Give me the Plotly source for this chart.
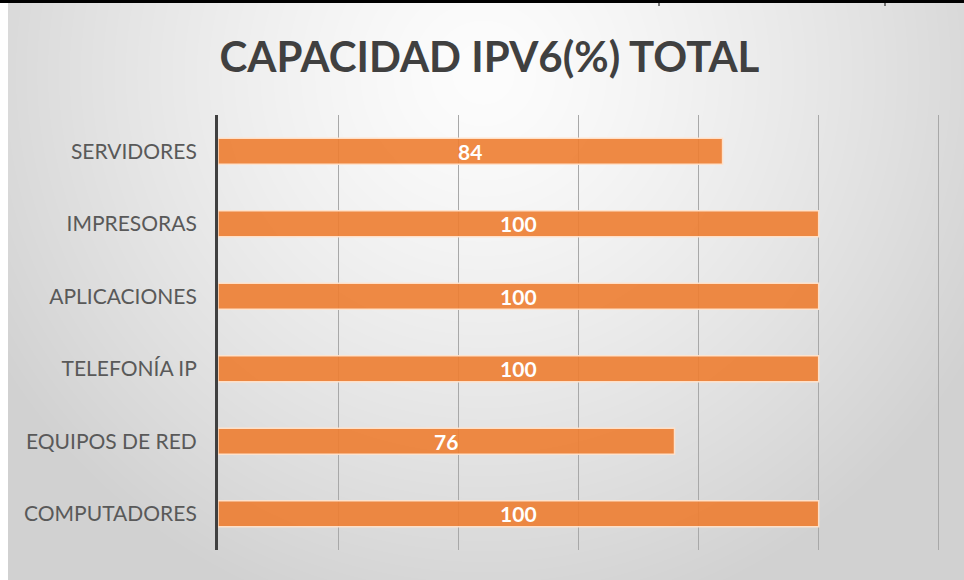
import base64
import struct
import zlib

import numpy as np
import plotly.graph_objects as go

# Data
categories = ["COMPUTADORES", "EQUIPOS DE RED", "TELEFONÍA IP",
              "APLICACIONES", "IMPRESORAS", "SERVIDORES"]
values = [100, 76, 100, 100, 100, 84]
title_text = "CAPACIDAD IPV6(%) TOTAL"

W, H = 964, 580
M_L, M_R, M_T, M_B = 218, 24, 115, 30
PW, PH = W - M_L - M_R, H - M_T - M_B


def gray_png(arr):
    """Encode a 2-D uint8 array as a grayscale PNG data URI."""
    h, w = arr.shape
    raw = b"".join(b"\x00" + arr[i].tobytes() for i in range(h))

    def chunk(tag, data):
        c = struct.pack(">I", len(data)) + tag + data
        return c + struct.pack(">I", zlib.crc32(tag + data) & 0xFFFFFFFF)

    png = b"\x89PNG\r\n\x1a\n"
    png += chunk(b"IHDR", struct.pack(">IIBBBBB", w, h, 8, 0, 0, 0, 0))
    png += chunk(b"IDAT", zlib.compress(raw, 9))
    png += chunk(b"IEND", b"")
    return "data:image/png;base64," + base64.b64encode(png).decode()


# Radial grey background panel
bx0, by0 = 8, 3
bw, bh = W - bx0, H - by0
yy, xx = np.mgrid[0:bh, 0:bw].astype(float)
r = np.sqrt(((xx - 475) / 570.0) ** 2 + ((yy - 70) / 570.0) ** 2)
shade = 253 - 44 * np.clip(r, 0, 1.0) ** 1.3
bg_uri = gray_png(shade.astype(np.uint8))


def px_x(px):
    return (px - M_L) / PW


def px_y(py):
    return (H - M_B - py) / PH


fig = go.Figure(
    go.Bar(
        x=values,
        y=categories,
        orientation="h",
        width=0.36,
        marker=dict(color="rgba(237,125,49,0.9)",
                    line=dict(color="rgba(255,228,205,0.95)", width=1.5)),
        texttemplate="%{x}",
        textposition="inside",
        textangle=0,
        constraintext="none",
        insidetextanchor="middle",
        textfont=dict(family="Lato", size=21, color="white", weight="bold"),
        hoverinfo="skip",
    )
)

fig.add_layout_image(
    dict(source=bg_uri, xref="paper", yref="paper",
         x=px_x(bx0), y=px_y(by0), sizex=bw / PW, sizey=bh / PH,
         xanchor="left", yanchor="top", sizing="stretch", layer="below")
)

# Frame line along the top edge, with two short cell dividers
fig.add_shape(type="line", xref="paper", yref="paper",
              x0=px_x(0), x1=px_x(W), y0=px_y(1.5), y1=px_y(1.5),
              line=dict(color="black", width=3))
for dx in (659, 885):
    fig.add_shape(type="line", xref="paper", yref="paper",
                  x0=px_x(dx), x1=px_x(dx), y0=px_y(0), y1=px_y(6),
                  line=dict(color="black", width=1))

fig.update_layout(
    width=W, height=H,
    margin=dict(l=M_L, r=M_R, t=M_T, b=M_B, pad=0),
    paper_bgcolor="white",
    plot_bgcolor="rgba(0,0,0,0)",
    showlegend=False,
    title=dict(text=title_text, xref="container", x=489.5 / W,
               xanchor="center", yref="container", y=1 - 57 / H,
               yanchor="middle",
               font=dict(family="Lato", size=42, color="#404040",
                         weight="bold")),
    xaxis=dict(range=[0, 120.2], dtick=20, showticklabels=False,
               showgrid=True, gridcolor="#a8a8a8", gridwidth=1.2,
               zeroline=False, showline=False, fixedrange=True),
    yaxis=dict(range=[-0.5, 5.5], showline=True, linecolor="#404040",
               linewidth=3, ticks="", ticklabelstandoff=14,
               tickfont=dict(family="Lato", size=21, color="#595959"),
               showgrid=False, fixedrange=True),
)

fig.write_html("out.html")
